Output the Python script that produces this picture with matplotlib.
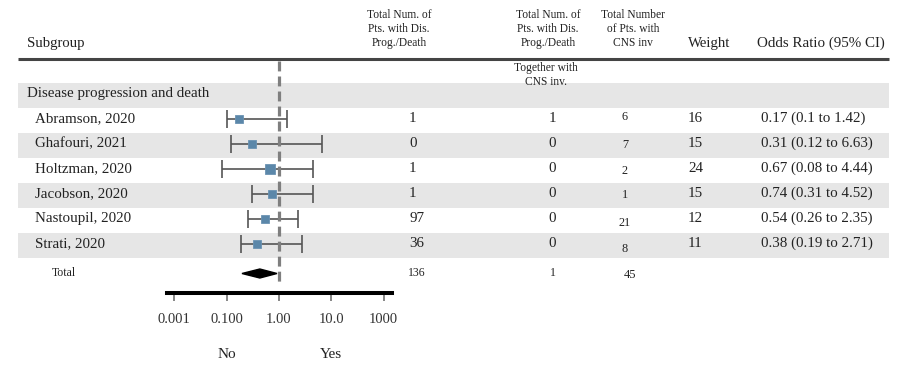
import numpy as np
import matplotlib
matplotlib.use("Agg")
import matplotlib.pyplot as plt
from matplotlib.patches import Rectangle
from matplotlib.ticker import NullLocator

# ---------------- data ----------------
group_label = "Disease progression and death"
studies = ["Abramson, 2020", "Ghafouri, 2021", "Holtzman, 2020", "Jacobson, 2020",
           "Nastoupil, 2020", "Strati, 2020"]
odds = [0.17, 0.31, 0.67, 0.74, 0.54, 0.38]
ci_low = [0.10, 0.12, 0.08, 0.31, 0.26, 0.19]
ci_high = [1.42, 6.63, 4.44, 4.52, 2.35, 2.71]
weights = [16, 15, 24, 15, 12, 11]
n_prog_death = [1, 0, 1, 1, 97, 36]
n_prog_death_cns = [1, 0, 0, 0, 0, 0]
n_cns = [6, 7, 2, 1, 21, 8]

total_label = "Total"
total_prog_death = 136
total_prog_death_cns = 1
total_cns = 45
total_or = 0.43
total_low = 0.196
total_high = 0.915

tick_values = [0.01, 0.1, 1, 10, 100]
tick_labels = ["0.001", "0.100", "1.00", "10.0", "1000"]
direction_labels = ["No", "Yes"]

col1_header = ["Total Num. of", "Pts. with Dis.", "Prog./Death"]
col2_header = ["Total Num. of", "Pts. with Dis.", "Prog./Death"]
col2_subheader = ["Together with", "CNS inv."]
col3_header = ["Total Number", "of Pts. with", "CNS inv"]

# ---------------- layout / style ----------------
plt.rcParams["font.family"] = ["Liberation Serif", "DejaVu Serif"]
TXT = "#222222"
W, H = 910, 368
ROW0, ROW_H = 95.5, 25.0
TOTAL_Y = 273.5
TXT_DY = -2.0
cns_dy = [-2, 2, 3, 2, 5, 5]
X_LEFT, X_RIGHT = 18, 889
PX_PER_DEC = 52.3
X_ONE = 279
AX_L, AX_R = 167, 392

fig = plt.figure(figsize=(W / 100, H / 100), dpi=100)
bg = fig.add_axes([0, 0, 1, 1])
bg.set_xlim(0, W)
bg.set_ylim(H, 0)
bg.axis("off")

# bands
n_rows = len(studies) + 1
for k in range(0, n_rows, 2):
    yc = ROW0 + ROW_H * k
    bg.add_patch(Rectangle((X_LEFT, yc - ROW_H / 2), X_RIGHT - X_LEFT, ROW_H,
                           facecolor="#e6e6e6", edgecolor="none", zorder=0))

# header line
bg.plot([X_LEFT, X_RIGHT], [58.5, 58.5], color="#444444", lw=2.2, solid_capstyle="butt")

# headers
bg.text(27, 43, "Subgroup", fontsize=10.6, color=TXT, va="center", ha="left")
bg.text(688, 43, "Weight", fontsize=10.6, color=TXT, va="center", ha="left")
bg.text(757, 43, "Odds Ratio (95% CI)", fontsize=10.8, color=TXT, va="center", ha="left")
hy = [15, 29, 43]
for line, y in zip(col1_header, hy):
    bg.text(399, y, line, fontsize=8.3, color=TXT, ha="center", va="center")
for line, y in zip(col2_header, hy):
    bg.text(548, y, line, fontsize=8.3, color=TXT, ha="center", va="center")
for line, y in zip(col2_subheader, [68, 82]):
    bg.text(546, y, line, fontsize=8.3, color=TXT, ha="center", va="center")
for line, y in zip(col3_header, hy):
    bg.text(633, y, line, fontsize=8.3, color=TXT, ha="center", va="center")

# group label
bg.text(27, ROW0 + TXT_DY, group_label, fontsize=10.8, color=TXT, ha="left", va="center")

# study rows (text)
for i, name in enumerate(studies):
    y = ROW0 + ROW_H * (i + 1) + TXT_DY
    bg.text(35, y, name, fontsize=10.8, color=TXT, ha="left", va="center")
    bg.text(409, y, str(n_prog_death[i]), fontsize=10.8, color=TXT, ha="left", va="center")
    bg.text(552, y, str(n_prog_death_cns[i]), fontsize=10.8, color=TXT, ha="center", va="center")
    bg.text(625, y + cns_dy[i], str(n_cns[i]), fontsize=8.8, color=TXT, ha="center", va="center")
    bg.text(688, y, str(weights[i]), fontsize=10.8, color=TXT, ha="left", va="center")
    bg.text(761, y, f"{odds[i]:g} ({ci_low[i]:g} to {ci_high[i]:g})", fontsize=10.8,
            color=TXT, ha="left", va="center")

# total row text
bg.text(52, TOTAL_Y, total_label, fontsize=8.5, color=TXT, ha="left", va="center")
bg.text(408, TOTAL_Y, str(total_prog_death), fontsize=8.5, color=TXT, ha="left", va="center")
bg.text(553, TOTAL_Y, str(total_prog_death_cns), fontsize=8.5, color=TXT, ha="center", va="center")
bg.text(630, TOTAL_Y + 2, str(total_cns), fontsize=9, color=TXT, ha="center", va="center")

# ---------------- forest axes ----------------
fa = fig.add_axes([AX_L / W, 0, (AX_R - AX_L) / W, 1])
fa.set_xscale("log")
fa.set_xlim(10 ** ((AX_L - X_ONE) / PX_PER_DEC), 10 ** ((AX_R - X_ONE) / PX_PER_DEC))
fa.set_ylim(H, 0)
fa.patch.set_visible(False)
for s in ("top", "left", "right"):
    fa.spines[s].set_visible(False)
fa.spines["bottom"].set_position(("data", 293))
fa.spines["bottom"].set_linewidth(2.9)
fa.spines["bottom"].set_color("black")
fa.yaxis.set_visible(False)
fa.set_xticks(tick_values)
fa.set_xticklabels(tick_labels)
fa.xaxis.set_minor_locator(NullLocator())
fa.tick_params(axis="x", direction="out", length=6, width=1.1, color="#666666",
               pad=8.5, labelsize=10.5, labelcolor="#333333")

# reference dashed line
fa.plot([1, 1], [61, 285], color="#7f7f7f", lw=2.3, linestyle=(0, (3.1, 1.6)), zorder=2)

ys = np.array([ROW0 + ROW_H * (i + 1) + TXT_DY for i in range(len(studies))])
o = np.array(odds)
lo = np.array(ci_low)
hi = np.array(ci_high)
fa.errorbar(o, ys, xerr=[o - lo, hi - o], fmt="none", ecolor="#555555",
            elinewidth=1.2, capsize=6.5, capthick=1.2, zorder=1)
for oi, yi, wi in zip(o, ys, weights):
    fa.plot(oi, yi, "s", ms=np.sqrt(wi) * 1.55, color="#5b87a9", mec="#6b93b3",
            mew=0.6, zorder=3)

# total diamond
fa.fill([total_low, total_or, total_high, total_or],
        [TOTAL_Y, TOTAL_Y - 4.5, TOTAL_Y, TOTAL_Y + 4.5], color="black", zorder=3)

# direction labels
fa.text(0.1, 354, direction_labels[0], fontsize=11, color=TXT, ha="center", va="center")
fa.text(10, 354, direction_labels[1], fontsize=11, color=TXT, ha="center", va="center")

fig.savefig("out.png", dpi=100)
